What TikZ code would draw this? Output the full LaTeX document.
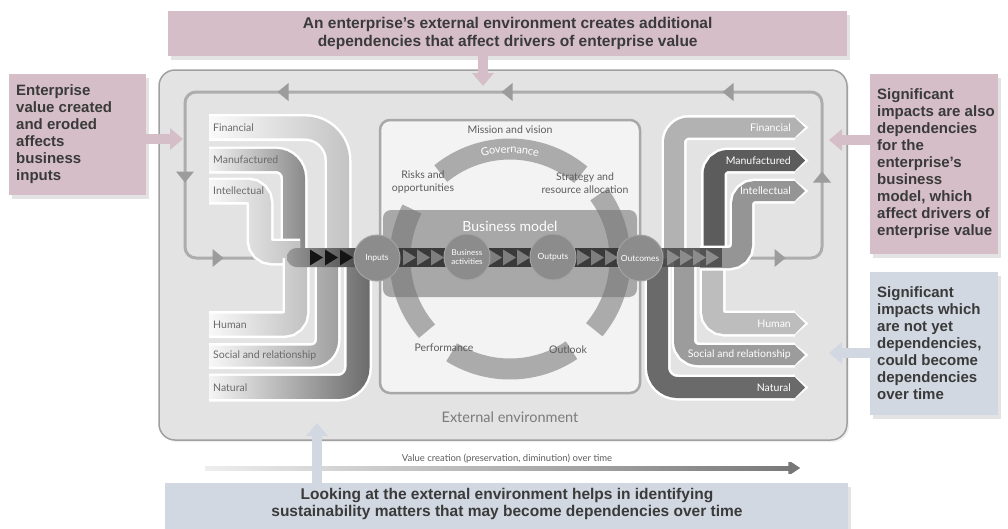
\documentclass[tikz,border=0pt]{standalone}
\usepackage{fontspec}
\setmainfont{Lato}
\newfontfamily\calloutfont{Liberation Sans}
\usetikzlibrary{arrows.meta,shadows,fadings,decorations.text}
\definecolor{pinkc}{HTML}{D5BEC7}
\definecolor{bluec}{HTML}{D1D8E1}
\definecolor{calltxt}{HTML}{3A3A3A}
\definecolor{framefill}{HTML}{E3E3E3}
\definecolor{framedraw}{HTML}{A0A0A0}
\definecolor{loopc}{HTML}{ADADAD}
\definecolor{looparr}{HTML}{9C9C9C}
\definecolor{boxfill}{HTML}{F3F3F3}
\definecolor{boxdraw}{HTML}{A8A8A8}
\definecolor{ringc}{HTML}{ABABAB}
\definecolor{lbl}{HTML}{5C5C5C}
\definecolor{bandlbl}{HTML}{6A6A6A}
\definecolor{circc}{HTML}{8C8C8C}
\definecolor{flowc}{HTML}{3A3A3A}
\definecolor{trianc}{HTML}{7E7E7E}
\definecolor{valc}{HTML}{767676}
\definecolor{extc}{HTML}{7A7A7A}
\definecolor{lfin}{HTML}{C4C4C4}
\definecolor{lman}{HTML}{8A8A8A}
\definecolor{lint}{HTML}{BABABA}
\definecolor{lhum}{HTML}{C2C2C2}
\definecolor{lsoc}{HTML}{A0A0A0}
\definecolor{lnat}{HTML}{6C6C6C}
\definecolor{rfin}{HTML}{B2B2B2}
\definecolor{rman}{HTML}{5C5C5C}
\definecolor{rint}{HTML}{959595}
\definecolor{rhum}{HTML}{BDBDBD}
\definecolor{rsoc}{HTML}{9C9C9C}
\definecolor{rnat}{HTML}{6A6A6A}
\tikzfading[name=fadeR, left color=transparent!100, middle color=transparent!82, right color=transparent!0]
\tikzfading[name=fadeV, left color=transparent!88, right color=transparent!0]
% right band: #1 colour, #2 width, #3 centre y of arrow end, #4 corner radius, #5 path
\newcommand\rband[5]{%
  \draw[white, line width=#2+5, rounded corners=#4] #5;
  \fill[white] (793,{#3-#2/2-2.5}) -- (808.5,#3) -- (793,{#3+#2/2+2.5}) -- cycle;
  \draw[#1, line width=#2, rounded corners=#4] #5;
  \fill[#1] (794.5,{#3-#2/2}) -- (805,#3) -- (794.5,{#3+#2/2}) -- cycle;}
% left band: #1 colour, #2 width, #3 corner radius, #4 path
\newcommand\lband[4]{%
  \draw[white, line width=#2+5, rounded corners=#3] #4;
  \draw[#1, line width=#2, rounded corners=#3, path fading=fadeR] #4;}
\newcommand\ltri[3]{\fill[looparr, shift={(#1,#2)}, rotate=#3] (5.5,0) -- (-5.5,-9) -- (-5.5,9) -- cycle;}
\newcommand\ftri[2]{\fill[#2] (#1,249.5) -- ({#1+13},257.5) -- (#1,265.5) -- cycle;}
\begin{document}
\begin{tikzpicture}[x=1pt, y=-1pt,
  callbox/.style={rectangle, inner sep=0, anchor=north west, drop shadow={shadow xshift=3pt, shadow yshift=-4pt, opacity=0.22}},
  calltext/.style={font=\calloutfont\bfseries\fontsize{15}{17}\selectfont, text=calltxt, inner sep=0},
  pinkarrow/.style={draw=pinkc, line width=10pt, -{Triangle[width=21pt,length=13pt]}},
  bluearrow/.style={draw=bluec, line width=10pt, -{Triangle[width=21pt,length=13pt]}},
  looppath/.style={draw=loopc, line width=3pt, rounded corners=11},
  llabel/.style={font=\fontsize{10.5}{12}\selectfont, text=bandlbl, anchor=west, inner sep=0},
  rlabel/.style={font=\fontsize{10.5}{12}\selectfont, text=white, anchor=east, inner sep=0},
  clabel/.style={font=\fontsize{10.5}{13.5}\selectfont, text=lbl, align=center, inner sep=0},
  ring/.style={draw=ringc, line width=21pt},
  circ/.style={circle, minimum size=46pt, inner sep=0, fill=circc, draw=circc!80!white, line width=1pt, text=white, font=\fontsize{8.5}{9}\selectfont, align=center},
]
\useasboundingbox (0,0) rectangle (1008,528);

% external environment frame
\node[rectangle, rounded corners=16, fill=framefill, draw=framedraw, line width=1.5pt, minimum width=688pt, minimum height=370pt, inner sep=0, drop shadow={shadow xshift=2pt, shadow yshift=-2pt, opacity=0.12}] (frame) at (503,255) {};

% value loop
\draw[looppath] (292,258) -- (185,258) -- (185,92) -- (822,92) -- (822,258) -- (735,258);
\ltri{283}{92}{180} \ltri{507}{92}{180} \ltri{728}{92}{180}
\ltri{185}{177}{-90} \ltri{822}{177}{90} \ltri{218}{258}{0} \ltri{780}{258}{0}

% left capitals (inputs)
\lband{lfin}{22}{33}{(209,127.5) -- (338,127.5) -- (338,258)}
\lband{lman}{22}{18}{(209,160) -- (294,160) -- (294,258)}
\lband{lint}{22}{12}{(209,191) -- (260,191) -- (260,252) -- (300,252)}
\lband{lnat}{23}{20}{(209,387.5) -- (358,387.5) -- (358,258)}
\lband{lsoc}{21}{16}{(209,356) -- (327.5,356) -- (327.5,258)}
\lband{lhum}{22}{12}{(209,324.5) -- (296,324.5) -- (296,258)}
\node[llabel] (lfinl) at (213,127.5) {Financial};
\node[llabel] (lmanl) at (213,160) {Manufactured};
\node[llabel] (lintl) at (213,191) {Intellectual};
\node[llabel] (lhuml) at (213,324.5) {Human};
\node[llabel] (lsocl) at (213,356) {Social and relationship};
\node[llabel] (lnatl) at (213,387.5) {Natural};

% right capitals (outcomes)
\rband{rnat}{21}{387.5}{20}{(657.5,258) -- (657.5,387.5) -- (795,387.5)}
\rband{rsoc}{20}{355}{14}{(684,258) -- (684,355) -- (795,355)}
\rband{rhum}{21}{323.5}{12}{(712.5,258) -- (712.5,323.5) -- (795,323.5)}
\rband{rfin}{20}{127.5}{15}{(674,258) -- (674,127.5) -- (795,127.5)}
\rband{rman}{21}{160.5}{14}{(714,258) -- (714,160.5) -- (795,160.5)}
\rband{rint}{20}{191}{13}{(700,258) -- (742,258) -- (742,191) -- (795,191)}
\node[rlabel] (rfinl) at (791,127.5) {Financial};
\node[rlabel] (rmanl) at (791,160.5) {Manufactured};
\node[rlabel] (rintl) at (791,191) {Intellectual};
\node[rlabel] (rhuml) at (791,323.5) {Human};
\node[rlabel] (rsocl) at (791,355) {Social and relationship};
\node[rlabel] (rnatl) at (791,387.5) {Natural};

% centre box and governance ring
\node[rectangle, rounded corners=10, fill=boxfill, draw=boxdraw, line width=2.5pt, minimum width=260pt, minimum height=273pt, inner sep=0] (cbox) at (510,256.5) {};
\coordinate (C) at (510,259);
\draw[ring] (C) ++(-50:110) arc[start angle=-50, end angle=-129, radius=110];
\draw[ring] (C) ++(-153:110) arc[start angle=-153, end angle=-221, radius=110];
\draw[ring] (C) ++(-238:110) arc[start angle=-238, end angle=-304, radius=110];
\draw[ring] (C) ++(40:110) arc[start angle=40, end angle=-36, radius=110];
\path[decorate, decoration={text along path, text={|\fontsize{11}{11}\selectfont\color{white}|Governance}, text align=center, raise=-4pt}] (C) ++(-131:110) arc[start angle=-131, end angle=-49, radius=110];
\node[clabel] (mission) at (510,130) {Mission and vision};
\node[clabel] (risks) at (423,182) {Risks and\\opportunities};
\node[clabel] (strategy) at (585,183) {Strategy and\\resource allocation};
\node[clabel] (perf) at (444,348) {Performance};
\node[clabel] (outlook) at (568,350) {Outlook};

% business model band
\fill[black!55, opacity=0.58, rounded corners=8] (383,210) rectangle (637,297);
\node[font=\fontsize{14}{14}\selectfont, text=white, inner sep=0] (bm) at (510,226) {Business model};

% flows
\shade[left color=black!40, right color=black!78] (377,248) -- (296.5,248) arc[start angle=-90, end angle=-270, radius=9.5] -- (377,267) -- cycle;
\ftri{310}{black!92} \ftri{325}{black!92} \ftri{340}{black!92}
\fill[flowc] (377,248) rectangle (640,267);
\ftri{403}{trianc} \ftri{417}{trianc} \ftri{431}{trianc}
\ftri{489}{trianc} \ftri{503}{trianc} \ftri{517}{trianc}
\ftri{577}{trianc} \ftri{591}{trianc} \ftri{605}{trianc}
\fill[black!72, opacity=0.85] (640,248) rectangle (722,267);
\ftri{667}{black!45} \ftri{680}{black!45} \ftri{693}{black!45} \ftri{706}{black!45}

% circles
\node[circ] (inp) at (377,258) {Inputs};
\node[circ, font=\fontsize{8}{9}\selectfont] (bact) at (467,257) {Business\\activities};
\node[circ] (outp) at (553,257) {Outputs};
\node[circ] (outc) at (640,258) {Outcomes};

\node[font=\fontsize{14.5}{15}\selectfont, text=extc, inner sep=0] (ext) at (510,417) {External environment};

% value creation arrow
\coordinate (vs) at (205,468);
\coordinate (ve) at (801,468);
\draw[draw=valc, line width=5pt, path fading=fadeV, -{Triangle[width=15pt,length=12pt]}] (vs) -- (ve);
\node[font=\fontsize{9.5}{10}\selectfont, text=lbl, inner sep=0] (vt) at (507,459) {Value creation (preservation, diminution) over time};

% callouts
\node[callbox, fill=pinkc, minimum width=679pt, minimum height=45pt] (topbox) at (168,11) {};
\node[calltext, align=center, font=\calloutfont\bfseries\fontsize{15.5}{17.5}\selectfont] (toptext) at (topbox.center) {An enterprise’s external environment creates additional\\dependencies that affect drivers of enterprise value};
\coordinate (ttip) at (483,86);
\draw[pinkarrow] (topbox.south -| ttip) -- (ttip);

\node[callbox, fill=pinkc, minimum width=137pt, minimum height=121pt] (lbox) at (9,74) {};
\node[calltext, align=left, anchor=west] (ltext) at (16,134.5) {Enterprise\\value created\\and eroded\\affects\\business\\inputs};
\coordinate (ltip) at (183,139);
\draw[pinkarrow] (lbox.east |- ltip) -- (ltip);

\node[callbox, fill=pinkc, minimum width=128pt, minimum height=180pt] (rpbox) at (870,74) {};
\node[calltext, align=left, anchor=west] (rptext) at (877,164) {Significant\\impacts are also\\dependencies\\for the\\enterprise’s\\business\\model, which\\affect drivers of\\enterprise value};
\coordinate (rptip) at (829,140);
\draw[pinkarrow] (rpbox.west |- rptip) -- (rptip);

\node[callbox, fill=bluec, minimum width=128pt, minimum height=143pt] (rbbox) at (870,272) {};
\node[calltext, align=left, anchor=west] (rbtext) at (877,343.5) {Significant\\impacts which\\are not yet\\dependencies,\\could become\\dependencies\\over time};
\coordinate (rbtip) at (829,353);
\draw[bluearrow] (rbbox.west |- rbtip) -- (rbtip);

\node[callbox, fill=bluec, minimum width=683pt, minimum height=50pt] (botbox) at (165,483) {};
\node[calltext, align=center, font=\calloutfont\bfseries\fontsize{15.5}{17.5}\selectfont] (bottext) at (507,504) {Looking at the external environment helps in identifying\\sustainability matters that may become dependencies over time};
\coordinate (btip) at (317,423);
\draw[bluearrow] (botbox.north -| btip) -- (btip);
\end{tikzpicture}
\end{document}
